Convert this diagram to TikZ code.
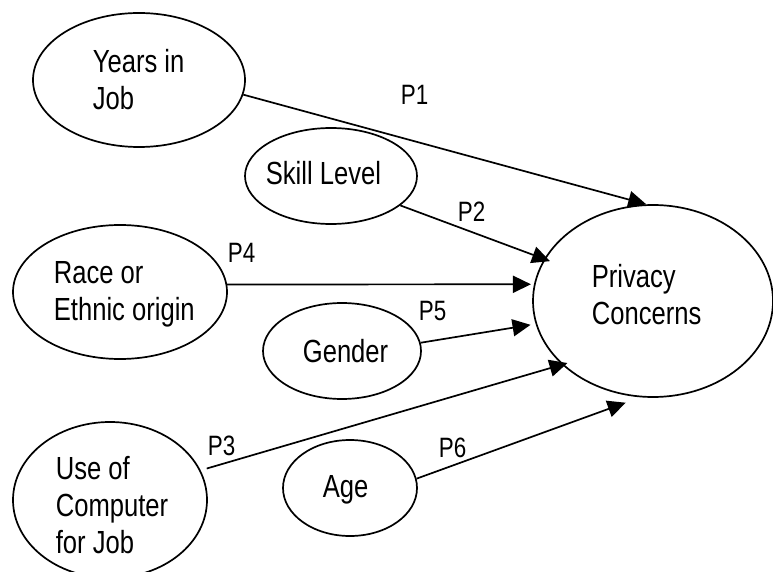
\documentclass[tikz,border=0pt]{standalone}
\usepackage{fontspec}
\newfontfamily\diafont[FakeStretch=0.8]{Liberation Sans}
\usetikzlibrary{shapes.geometric, arrows.meta}

\begin{document}
\begin{tikzpicture}[x=1pt, y=-1pt, line width=1.7pt,
  oval/.style={draw, ellipse, inner sep=0pt},
  txt/.style={inner sep=0pt, anchor=base west, align=left,
    font=\diafont\fontsize{32}{37}\selectfont},
  plabel/.style={inner sep=0pt, anchor=base west,
    font=\diafont\fontsize{28}{32}\selectfont},
  link/.style={-{Triangle[length=18pt,width=17pt]}}]

\useasboundingbox (0,0) rectangle (773,572);

% constructs (ovals)
\node[oval, minimum width=212pt, minimum height=134pt] (yrs)    at (139,80)  {};
\node[oval, minimum width=172pt, minimum height=96pt]  (skill)  at (331,176) {};
\node[oval, minimum width=214pt, minimum height=134pt] (race)   at (120,292) {};
\node[oval, minimum width=158pt, minimum height=96pt]  (gender) at (342,351) {};
\node[oval, minimum width=240pt, minimum height=192pt] (pc)     at (653,301) {};
\node[oval, minimum width=194pt, minimum height=156pt] (comp)   at (110,500) {};
\node[oval, minimum width=134pt, minimum height=96pt]  (age)    at (350,488) {};

% texts inside the ovals (placed at the baseline of their last line)
\node[txt] (yrs-t)    at (92,110)  {Years in\\Job};
\node[txt] (skill-t)  at (265,185) {Skill Level};
\node[txt] (race-t)   at (53,320)  {Race or\\Ethnic origin};
\node[txt] (gender-t) at (302,362) {Gender};
\node[txt] (pc-t)     at (591,324) {Privacy\\Concerns};
\node[txt] (comp-t)   at (55,553)  {Use of\\Computer\\for Job};
\node[txt] (age-t)    at (322,497) {Age};

% hypothesised paths
\draw[link] (yrs.-8.6)   -- (pc.94.2);
\draw[link] (skill.-23.5) -- ([shift={(6,2)}]pc.159.6);
\draw[link] (race.4.3)   -- ([shift={(-3,0)}]pc.172.5);
\draw[link] (gender.6.5) -- ([shift={(-5,1)}]pc.191.1);
\draw[link] ([shift={(6,-2)}]comp.18.8) -- ([shift={(4,-3)}]pc.216.4);
\draw[link] (age.8.5)    -- ([shift={(-2,7)}]pc.255.6);

% path labels
\node[plabel] (p1) at (400,105) {P1};
\node[plabel] (p2) at (457,222) {P2};
\node[plabel] (p3) at (207,455) {P3};
\node[plabel] (p4) at (227,262) {P4};
\node[plabel] (p5) at (418,320) {P5};
\node[plabel] (p6) at (438,457) {P6};
\end{tikzpicture}
\end{document}
